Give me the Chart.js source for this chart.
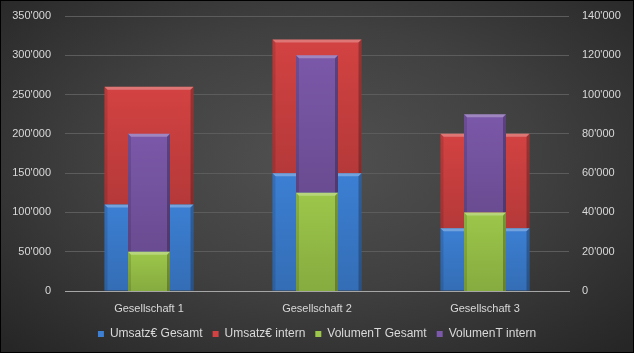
<!DOCTYPE html>
<html>
<head>
<meta charset="utf-8">
<script src="https://cdn.jsdelivr.net/npm/chart.js@4/dist/chart.umd.min.js"></script>
<style>
    html, body { margin: 0; padding: 0; background: #000; }
    .grafico {
        position: relative;
        width: 634px;
        height: 353px;
        box-sizing: border-box;
        border: 1px solid #000;
        background: radial-gradient(ellipse 70% 75% at 50% 45%, #515151 0%, #404040 50%, #262626 100%);
    }
</style>
</head>
<body>
<div class="grafico"><canvas id="graficoBarras"></canvas></div>
<script>
// dados
const categorias      = ['Gesellschaft 1', 'Gesellschaft 2', 'Gesellschaft 3'];
const umsatzGesamt    = [110000, 150000, 80000];
const umsatzIntern    = [150000, 170000, 120000];
const volumenGesamt   = [20000, 50000, 40000];
const volumenIntern   = [60000, 70000, 50000];

const cores = {
    azul:   '#3c7fd3',
    vermelho: '#d34242',
    verde:  '#9cc74a',
    roxo:   '#7b58a9'
};

function formatarNumero(v) {
    return v.toString().replace(/\B(?=(\d{3})+(?!\d))/g, "'");
}

// efeito de bisel nas barras (borda clara em cima, laterais escuras)
const biselPlugin = {
    id: 'bisel',
    afterDatasetDraw(chart, args) {
        const ctx = chart.ctx;
        const meta = args.meta;
        meta.data.forEach(bar => {
            const p = bar.getProps(['x', 'y', 'base', 'width'], true);
            const l = p.x - p.width / 2, r = p.x + p.width / 2;
            const t = Math.min(p.y, p.base), b = Math.max(p.y, p.base);
            const e = 3;
            ctx.save();
            // leve escurecimento para baixo
            const grad = ctx.createLinearGradient(0, t, 0, b);
            grad.addColorStop(0, 'rgba(0,0,0,0)');
            grad.addColorStop(1, 'rgba(0,0,0,0.14)');
            ctx.fillStyle = grad;
            ctx.fillRect(l, t, r - l, b - t);
            ctx.fillStyle = 'rgba(255,255,255,0.28)';
            ctx.beginPath();
            ctx.moveTo(l, t); ctx.lineTo(r, t); ctx.lineTo(r - e, t + e); ctx.lineTo(l + e, t + e);
            ctx.closePath(); ctx.fill();
            ctx.fillStyle = 'rgba(0,0,0,0.12)';
            ctx.beginPath();
            ctx.moveTo(l, t); ctx.lineTo(l + e, t + e); ctx.lineTo(l + e, b); ctx.lineTo(l, b);
            ctx.closePath(); ctx.fill();
            ctx.fillStyle = 'rgba(0,0,0,0.25)';
            ctx.beginPath();
            ctx.moveTo(r, t); ctx.lineTo(r - e, t + e); ctx.lineTo(r - e, b); ctx.lineTo(r, b);
            ctx.closePath(); ctx.fill();
            ctx.restore();
        });
    }
};

const fonte = { family: 'Liberation Sans', size: 11 };
const corTexto = '#d9d9d9';

new Chart(document.getElementById('graficoBarras'), {
    type: 'bar',
    data: {
        labels: categorias,
        datasets: [
            {
                label: 'Umsatz€ Gesamt',
                data: umsatzGesamt,
                backgroundColor: cores.azul,
                borderWidth: 0,
                yAxisID: 'y',
                barPercentage: 1, categoryPercentage: 0.53,
                order: 2
            },
            {
                label: 'Umsatz€ intern',
                data: umsatzIntern,
                backgroundColor: cores.vermelho,
                borderWidth: 0,
                yAxisID: 'y',
                barPercentage: 1, categoryPercentage: 0.53,
                order: 2
            },
            {
                label: 'VolumenT Gesamt',
                data: volumenGesamt,
                backgroundColor: cores.verde,
                borderWidth: 0,
                yAxisID: 'y1',
                barPercentage: 1, categoryPercentage: 0.25,
                order: 1
            },
            {
                label: 'VolumenT intern',
                data: volumenIntern,
                backgroundColor: cores.roxo,
                borderWidth: 0,
                yAxisID: 'y1',
                barPercentage: 1, categoryPercentage: 0.25,
                order: 1
            }
        ]
    },
    options: {
        responsive: true,
        maintainAspectRatio: false,
        animation: false,
        grouped: false,
        layout: { padding: { left: 0, right: 0, top: 15, bottom: 2 } },
        plugins: {
            tooltip: { enabled: false },
            legend: {
                position: 'bottom',
                labels: {
                    usePointStyle: true,
                    pointStyle: 'rect',
                    boxWidth: 6,
                    boxHeight: 6,
                    padding: 10,
                    color: corTexto,
                    font: { family: 'Liberation Sans', size: 12 },
                    sort: (a, b) => a.datasetIndex - b.datasetIndex
                }
            }
        },
        scales: {
            x: {
                stacked: true,
                grid: { display: false, drawTicks: false },
                border: { color: '#a6a6a6' },
                ticks: { color: corTexto, font: fonte, padding: 11 },
                afterFit: s => { s.height = 27; }
            },
            y: {
                stacked: true,
                position: 'left',
                min: 0, max: 350000,
                ticks: { stepSize: 50000, color: corTexto, font: fonte, padding: 14, callback: v => formatarNumero(v) },
                grid: { color: '#5c5c5c', drawTicks: false },
                border: { display: false },
                afterFit: s => { s.width = 64; s.paddingTop = 0; s.paddingBottom = 0; }
            },
            y1: {
                stacked: true,
                position: 'right',
                min: 0, max: 140000,
                ticks: { stepSize: 20000, color: corTexto, font: fonte, padding: 13, callback: v => formatarNumero(v) },
                grid: { display: false, drawTicks: false },
                border: { display: false },
                afterFit: s => { s.width = 64; s.paddingTop = 0; s.paddingBottom = 0; }
            }
        }
    },
    plugins: [biselPlugin]
});
</script>
</body>
</html>
